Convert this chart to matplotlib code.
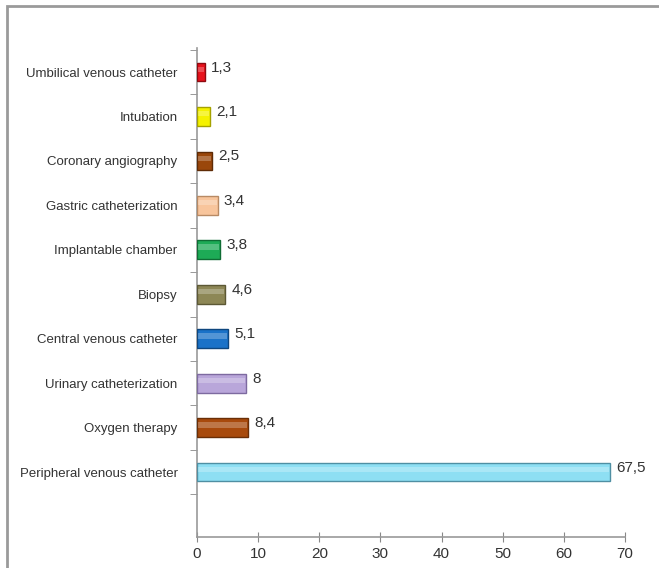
import matplotlib as mpl
mpl.use("Agg")
import matplotlib.pyplot as plt
from matplotlib.patches import Rectangle
import numpy as np

categories = [
    "Peripheral venous catheter", "Oxygen therapy", "Urinary catheterization",
    "Central venous catheter", "Biopsy", "Implantable chamber",
    "Gastric catheterization", "Coronary angiography", "Intubation",
    "Umbilical venous catheter",
]
values = [67.5, 8.4, 8, 5.1, 4.6, 3.8, 3.4, 2.5, 2.1, 1.3]
value_labels = ["67,5", "8,4", "8", "5,1", "4,6", "3,8", "3,4", "2,5", "2,1", "1,3"]
colors = ["#8edff3", "#a84a0c", "#b9a6da", "#1a72c8", "#8d8756",
          "#1dab56", "#f8c59c", "#9a470b", "#f5f200", "#e8121c"]
edges = ["#4f8fa3", "#6a2e06", "#7d6aa0", "#0e467e", "#5c5835",
         "#0f6c34", "#b88a64", "#5e2b06", "#a5a200", "#8e0a10"]

plt.rcParams["font.family"] = ["Liberation Sans", "DejaVu Sans"]

fig = plt.figure(figsize=(6.59, 5.68), dpi=100)
fig.patches.append(Rectangle((7 / 659, -0.1), 1.2, 1 - 6 / 568 + 0.1,
                             transform=fig.transFigure, fill=False,
                             edgecolor="#9a9a9a", lw=2.0))
ax = fig.add_axes([197 / 659, 1 - 537 / 568, 428 / 659, 489 / 568])

y = np.arange(len(categories))
ax.barh(y, values, height=0.42, color=colors, edgecolor=edges, lw=1.0, zorder=3)
# lighter highlight strip for cylinder look
for yi, v in zip(y, values):
    ax.barh(yi + 0.06, v - 0.3, left=0.15, height=0.12, color="white",
            alpha=0.25, lw=0, zorder=4)

for yi, v, lab in zip(y, values, value_labels):
    ax.text(v + 1.0, yi + 0.1, lab, va="center", ha="left", fontsize=11,
            color="#333333")

ax.set_xlim(0, 70)
ax.set_ylim(-1.46, 9.54)
ax.set_xticks(range(0, 71, 10))
ax.set_yticks(y)
ax.set_yticklabels(categories)
ax.set_yticks(np.arange(-0.5, 9.6, 1), minor=True)
ax.tick_params(axis="y", which="major", length=0, pad=14, labelsize=9.5,
               labelcolor="#333333")
ax.tick_params(axis="y", which="minor", length=5, color="#888888")
ax.tick_params(axis="x", length=7, direction="inout", color="#888888",
               labelsize=11, labelcolor="#333333", pad=4)
for s in ["top", "right"]:
    ax.spines[s].set_visible(False)
ax.spines["left"].set_color("#999999")
ax.spines["bottom"].set_color("#999999")
ax.spines["left"].set_linewidth(1.2)
ax.spines["bottom"].set_linewidth(1.2)

fig.savefig("out.png", dpi=100, facecolor="white")
